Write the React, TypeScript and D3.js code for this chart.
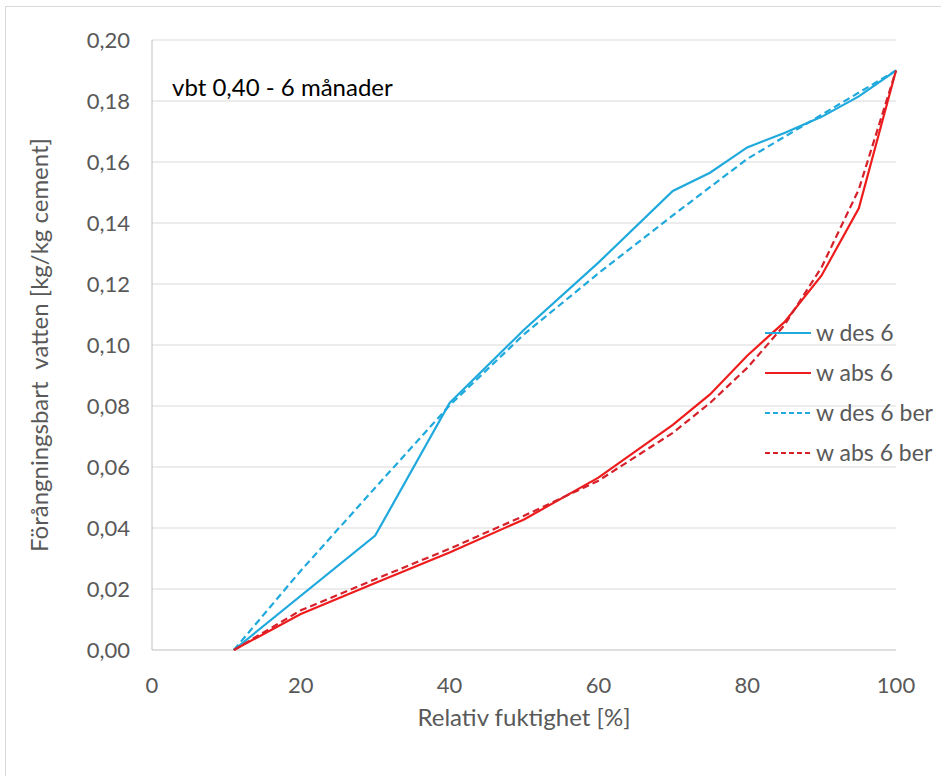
import React from 'react'
import * as d3 from 'd3'

// relativ fuktighet [%]
const rhDes = [11, 30, 40, 50, 60, 70, 75, 80, 85, 90, 95, 100]
const wDes6 = [0, 0.0375, 0.081, 0.105, 0.127, 0.1505, 0.1565, 0.1648, 0.1695, 0.1748, 0.1815, 0.19]

const rhDesBer = [11, 20, 30, 40, 50, 60, 70, 80, 90, 100]
const wDes6Ber = [0, 0.026, 0.0532, 0.0802, 0.1035, 0.1235, 0.1425, 0.161, 0.1755, 0.19]

const rhAbs = [11, 20, 30, 40, 50, 60, 70, 75, 80, 85, 90, 95, 100]
const wAbs6 = [0, 0.0118, 0.022, 0.032, 0.0428, 0.0565, 0.0738, 0.0838, 0.0965, 0.1075, 0.1228, 0.1448, 0.19]
const wAbs6Ber = [0, 0.013, 0.0232, 0.0332, 0.044, 0.0555, 0.0712, 0.081, 0.0925, 0.1065, 0.1255, 0.151, 0.19]

const xTicks = [0, 20, 40, 60, 80, 100]
const yTicks = [0, 0.02, 0.04, 0.06, 0.08, 0.1, 0.12, 0.14, 0.16, 0.18, 0.2]

const seriesNames = ['w des 6', 'w abs 6', 'w des 6 ber', 'w abs 6 ber']

const BLUE = '#1fa9dc'
const RED = '#ee1c1c'
const FONT = 'Lato, "Open Sans", sans-serif'

const App = () => {
  const width = 941
  const height = 776
  const margin = { top: 40, right: 45, bottom: 126, left: 152 }

  const x = d3.scaleLinear().domain([0, 100]).range([margin.left, width - margin.right])
  const y = d3.scaleLinear().domain([0, 0.2]).range([height - margin.bottom, margin.top])

  const line = d3.line<[number, number]>()
    .x(d => x(d[0]))
    .y(d => y(d[1]))

  const pts = (xs: number[], ys: number[]) => xs.map((v, i) => [v, ys[i]] as [number, number])

  const series = [
    { name: seriesNames[0], d: line(pts(rhDes, wDes6)), color: BLUE, dash: null },
    { name: seriesNames[1], d: line(pts(rhAbs, wAbs6)), color: RED, dash: null },
    { name: seriesNames[2], d: line(pts(rhDesBer, wDes6Ber)), color: BLUE, dash: '7,4' },
    { name: seriesNames[3], d: line(pts(rhAbs, wAbs6Ber)), color: '#d6202a', dash: '7,4' },
  ]

  const fmt = (v: number) => v.toFixed(2).replace('.', ',')

  return (
    <svg width={width} height={height}
      style={{ position: 'absolute', left: 0, top: 0, background: '#fff', fontFamily: FONT }}>
      <rect x={5.5} y={6.5} width={width + 20} height={height + 20} fill="#fff" stroke="#d9d9d9" />

      {/* grid */}
      {yTicks.map(t => (
        <line key={'g' + t} x1={x(0)} x2={x(100)} y1={y(t)} y2={y(t)}
          stroke={t === 0 ? '#bfbfbf' : '#d9d9d9'} strokeWidth={1} />
      ))}
      <line x1={x(0)} x2={x(0)} y1={y(0)} y2={y(0.2)} stroke="#bfbfbf" />

      {/* tick labels */}
      {yTicks.map(t => (
        <text key={'y' + t} x={x(0) - 22} y={y(t)} dy="0.35em" textAnchor="end"
          fontSize={22} fill="#595959">{fmt(t)}</text>
      ))}
      {xTicks.map(t => (
        <text key={'x' + t} x={x(t)} y={y(0) + 35} dy="0.35em" textAnchor="middle"
          fontSize={22} fill="#595959">{t}</text>
      ))}

      {/* series */}
      {series.map(s => (
        <path key={s.name} d={s.d || ''} fill="none" stroke={s.color} strokeWidth={2.2}
          strokeDasharray={s.dash || undefined} />
      ))}

      {/* titles */}
      <text x={172} y={88} dy="0.35em" fontSize={24} fill="#000">vbt 0,40 - 6 månader</text>
      <text x={(x(0) + x(100)) / 2} y={718} dy="0.35em" textAnchor="middle" fontSize={24} fill="#595959">
        Relativ fuktighet [%]</text>
      <text transform={`translate(40,${(y(0) + y(0.2)) / 2}) rotate(-90)`} dy="0.35em" textAnchor="middle"
        fontSize={24} fill="#595959" style={{ whiteSpace: 'pre' }}>
        {'Förångningsbart  vatten [kg/kg cement]'}</text>

      {/* legend */}
      {series.map((s, i) => (
        <g key={'l' + s.name} transform={`translate(765,${333 + i * 40})`}>
          <line x1={0} x2={46} y1={0} y2={0} stroke={s.color} strokeWidth={2.2}
            strokeDasharray={s.dash ? '5,3' : undefined} />
          <text x={51} y={0} dy="0.35em" fontSize={23} fill="#595959">{s.name}</text>
        </g>
      ))}
    </svg>
  )
}

export default App
